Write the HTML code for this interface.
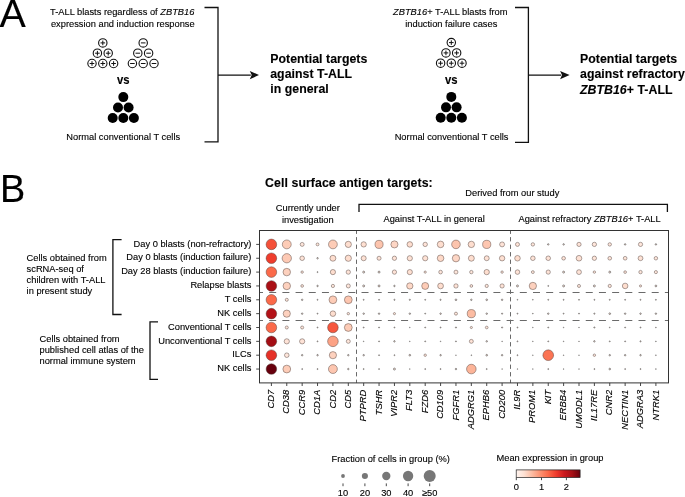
<!DOCTYPE html>
<html><head><meta charset="utf-8"><title>Figure</title>
<style>html,body{margin:0;padding:0;background:#fff;} svg{display:block;} text{fill:#000;stroke:#000;stroke-width:0.12px;}</style></head>
<body><svg width="685" height="497" viewBox="0 0 685 497" font-family="'Liberation Sans', Arial, sans-serif">
<rect width="685" height="497" fill="#fff"/>
<defs><linearGradient id="cb" x1="0" x2="1" y1="0" y2="0"><stop offset="0.000" stop-color="#fff5f0"/><stop offset="0.125" stop-color="#fee0d2"/><stop offset="0.250" stop-color="#fcbba1"/><stop offset="0.375" stop-color="#fc9272"/><stop offset="0.500" stop-color="#fb6a4a"/><stop offset="0.625" stop-color="#ef3b2c"/><stop offset="0.750" stop-color="#cb181d"/><stop offset="0.875" stop-color="#a50f15"/><stop offset="1.000" stop-color="#67000d"/></linearGradient></defs>
<text x="-0.40" y="26.80" font-size="39.4">A</text>
<text x="122.20" y="15.00" font-size="9.3" text-anchor="middle">T-ALL blasts regardless of <tspan font-style="italic">ZBTB16</tspan></text>
<text x="122.80" y="26.50" font-size="9.3" text-anchor="middle">expression and induction response</text>
<circle cx="102.80" cy="42.90" r="4.2" fill="#fff" stroke="#111" stroke-width="1.1"/>
<line x1="100.50" y1="42.90" x2="105.10" y2="42.90" stroke="#111" stroke-width="1.0"/>
<line x1="102.80" y1="40.60" x2="102.80" y2="45.20" stroke="#111" stroke-width="1.0"/>
<circle cx="97.40" cy="53.20" r="4.2" fill="#fff" stroke="#111" stroke-width="1.1"/>
<line x1="95.10" y1="53.20" x2="99.70" y2="53.20" stroke="#111" stroke-width="1.0"/>
<line x1="97.40" y1="50.90" x2="97.40" y2="55.50" stroke="#111" stroke-width="1.0"/>
<circle cx="108.20" cy="53.20" r="4.2" fill="#fff" stroke="#111" stroke-width="1.1"/>
<line x1="105.90" y1="53.20" x2="110.50" y2="53.20" stroke="#111" stroke-width="1.0"/>
<line x1="108.20" y1="50.90" x2="108.20" y2="55.50" stroke="#111" stroke-width="1.0"/>
<circle cx="92.00" cy="63.50" r="4.2" fill="#fff" stroke="#111" stroke-width="1.1"/>
<line x1="89.70" y1="63.50" x2="94.30" y2="63.50" stroke="#111" stroke-width="1.0"/>
<line x1="92.00" y1="61.20" x2="92.00" y2="65.80" stroke="#111" stroke-width="1.0"/>
<circle cx="102.80" cy="63.50" r="4.2" fill="#fff" stroke="#111" stroke-width="1.1"/>
<line x1="100.50" y1="63.50" x2="105.10" y2="63.50" stroke="#111" stroke-width="1.0"/>
<line x1="102.80" y1="61.20" x2="102.80" y2="65.80" stroke="#111" stroke-width="1.0"/>
<circle cx="113.60" cy="63.50" r="4.2" fill="#fff" stroke="#111" stroke-width="1.1"/>
<line x1="111.30" y1="63.50" x2="115.90" y2="63.50" stroke="#111" stroke-width="1.0"/>
<line x1="113.60" y1="61.20" x2="113.60" y2="65.80" stroke="#111" stroke-width="1.0"/>
<circle cx="143.20" cy="42.90" r="4.2" fill="#fff" stroke="#111" stroke-width="1.1"/>
<line x1="140.90" y1="42.90" x2="145.50" y2="42.90" stroke="#111" stroke-width="1.0"/>
<circle cx="137.80" cy="53.20" r="4.2" fill="#fff" stroke="#111" stroke-width="1.1"/>
<line x1="135.50" y1="53.20" x2="140.10" y2="53.20" stroke="#111" stroke-width="1.0"/>
<circle cx="148.60" cy="53.20" r="4.2" fill="#fff" stroke="#111" stroke-width="1.1"/>
<line x1="146.30" y1="53.20" x2="150.90" y2="53.20" stroke="#111" stroke-width="1.0"/>
<circle cx="132.40" cy="63.50" r="4.2" fill="#fff" stroke="#111" stroke-width="1.1"/>
<line x1="130.10" y1="63.50" x2="134.70" y2="63.50" stroke="#111" stroke-width="1.0"/>
<circle cx="143.20" cy="63.50" r="4.2" fill="#fff" stroke="#111" stroke-width="1.1"/>
<line x1="140.90" y1="63.50" x2="145.50" y2="63.50" stroke="#111" stroke-width="1.0"/>
<circle cx="154.00" cy="63.50" r="4.2" fill="#fff" stroke="#111" stroke-width="1.1"/>
<line x1="151.70" y1="63.50" x2="156.30" y2="63.50" stroke="#111" stroke-width="1.0"/>
<g transform="translate(123.3,83.9) scale(1,1.16)"><text x="0" y="0" font-size="11.3" font-weight="bold" text-anchor="middle">vs</text></g>
<circle cx="123.30" cy="97.10" r="5.0" fill="#000"/>
<circle cx="118.00" cy="107.55" r="5.0" fill="#000"/>
<circle cx="128.60" cy="107.55" r="5.0" fill="#000"/>
<circle cx="112.70" cy="118.00" r="5.0" fill="#000"/>
<circle cx="123.30" cy="118.00" r="5.0" fill="#000"/>
<circle cx="133.90" cy="118.00" r="5.0" fill="#000"/>
<text x="123.20" y="140.30" font-size="9.3" text-anchor="middle">Normal conventional T cells</text>
<path d="M204.5 7.5 H218.0 V141.8 H204.5" fill="none" stroke="#111" stroke-width="1.3"/>
<line x1="218.0" y1="75.1" x2="250.8" y2="75.1" stroke="#111" stroke-width="1.3"/>
<path d="M249.8 70.94999999999999 L259.0 75.1 L249.8 79.25 L251.70000000000002 75.1 Z" fill="#111"/>
<text x="270.20" y="63.20" font-size="12.3" font-weight="bold" letter-spacing="0.05">Potential targets</text>
<text x="270.20" y="78.30" font-size="12.3" font-weight="bold" letter-spacing="0.05">against T-ALL</text>
<text x="270.20" y="93.40" font-size="12.3" font-weight="bold" letter-spacing="0.05">in general</text>
<text x="450.30" y="15.10" font-size="9.3" text-anchor="middle"><tspan font-style="italic">ZBTB16</tspan>+ T-ALL blasts from</text>
<text x="451.30" y="26.60" font-size="9.3" text-anchor="middle">induction failure cases</text>
<circle cx="451.30" cy="42.60" r="4.2" fill="#fff" stroke="#111" stroke-width="1.1"/>
<line x1="449.00" y1="42.60" x2="453.60" y2="42.60" stroke="#111" stroke-width="1.0"/>
<line x1="451.30" y1="40.30" x2="451.30" y2="44.90" stroke="#111" stroke-width="1.0"/>
<circle cx="445.95" cy="52.90" r="4.2" fill="#fff" stroke="#111" stroke-width="1.1"/>
<line x1="443.65" y1="52.90" x2="448.25" y2="52.90" stroke="#111" stroke-width="1.0"/>
<line x1="445.95" y1="50.60" x2="445.95" y2="55.20" stroke="#111" stroke-width="1.0"/>
<circle cx="456.65" cy="52.90" r="4.2" fill="#fff" stroke="#111" stroke-width="1.1"/>
<line x1="454.35" y1="52.90" x2="458.95" y2="52.90" stroke="#111" stroke-width="1.0"/>
<line x1="456.65" y1="50.60" x2="456.65" y2="55.20" stroke="#111" stroke-width="1.0"/>
<circle cx="440.60" cy="63.20" r="4.2" fill="#fff" stroke="#111" stroke-width="1.1"/>
<line x1="438.30" y1="63.20" x2="442.90" y2="63.20" stroke="#111" stroke-width="1.0"/>
<line x1="440.60" y1="60.90" x2="440.60" y2="65.50" stroke="#111" stroke-width="1.0"/>
<circle cx="451.30" cy="63.20" r="4.2" fill="#fff" stroke="#111" stroke-width="1.1"/>
<line x1="449.00" y1="63.20" x2="453.60" y2="63.20" stroke="#111" stroke-width="1.0"/>
<line x1="451.30" y1="60.90" x2="451.30" y2="65.50" stroke="#111" stroke-width="1.0"/>
<circle cx="462.00" cy="63.20" r="4.2" fill="#fff" stroke="#111" stroke-width="1.1"/>
<line x1="459.70" y1="63.20" x2="464.30" y2="63.20" stroke="#111" stroke-width="1.0"/>
<line x1="462.00" y1="60.90" x2="462.00" y2="65.50" stroke="#111" stroke-width="1.0"/>
<g transform="translate(451.3,83.8) scale(1,1.16)"><text x="0" y="0" font-size="11.3" font-weight="bold" text-anchor="middle">vs</text></g>
<circle cx="451.30" cy="96.90" r="5.0" fill="#000"/>
<circle cx="446.00" cy="107.35" r="5.0" fill="#000"/>
<circle cx="456.60" cy="107.35" r="5.0" fill="#000"/>
<circle cx="440.70" cy="117.80" r="5.0" fill="#000"/>
<circle cx="451.30" cy="117.80" r="5.0" fill="#000"/>
<circle cx="461.90" cy="117.80" r="5.0" fill="#000"/>
<text x="451.60" y="140.30" font-size="9.3" text-anchor="middle">Normal conventional T cells</text>
<path d="M515 7.5 H528.4 V142.4 H515" fill="none" stroke="#111" stroke-width="1.3"/>
<line x1="528.4" y1="75.1" x2="561.1" y2="75.1" stroke="#111" stroke-width="1.3"/>
<path d="M560.1 70.94999999999999 L569.6 75.1 L560.1 79.25 L562.0 75.1 Z" fill="#111"/>
<text x="580.00" y="63.20" font-size="12.3" font-weight="bold" letter-spacing="0.05">Potential targets</text>
<text x="580.00" y="78.20" font-size="12.3" font-weight="bold" letter-spacing="0.05">against refractory</text>
<text x="580.00" y="93.50" font-size="12.3" font-weight="bold" letter-spacing="0.05"><tspan font-style="italic">ZBTB16</tspan>+ T-ALL</text>
<g transform="translate(-0.1,202.0) scale(0.96,1)"><text x="0" y="0" font-size="39.4">B</text></g>
<text x="265.10" y="186.80" font-size="12.3" font-weight="bold" letter-spacing="0.08">Cell surface antigen targets:</text>
<text x="465.30" y="196.00" font-size="9.3">Derived from our study</text>
<path d="M359.0 212.1 V204.4 H667.4 V212.1" fill="none" stroke="#111" stroke-width="1.3"/>
<text x="307.80" y="211.40" font-size="9.3" text-anchor="middle">Currently under</text>
<text x="307.80" y="222.70" font-size="9.3" text-anchor="middle">investigation</text>
<text x="434.10" y="222.30" font-size="9.3" text-anchor="middle">Against T-ALL in general</text>
<text x="589.60" y="222.20" font-size="9.3" text-anchor="middle">Against refractory <tspan font-style="italic">ZBTB16</tspan>+ T-ALL</text>
<clipPath id="ax"><rect x="259.5" y="230.4" width="409" height="152.5"/></clipPath>
<g clip-path="url(#ax)">
<line x1="256.0" y1="292.5" x2="668.5" y2="292.5" stroke="#6a6a6a" stroke-width="1.0" stroke-dasharray="7.0 6.19"/>
<line x1="256.0" y1="320.5" x2="668.5" y2="320.5" stroke="#6a6a6a" stroke-width="1.0" stroke-dasharray="7.0 6.19"/>
<line x1="356.5" y1="229.6" x2="356.5" y2="382.9" stroke="#6a6a6a" stroke-width="1.0" stroke-dasharray="4.3 3.2"/>
<line x1="510.5" y1="229.6" x2="510.5" y2="382.9" stroke="#6a6a6a" stroke-width="1.0" stroke-dasharray="4.3 3.2"/>
</g>
<circle cx="271.40" cy="244.40" r="5.30" fill="#f45039" stroke="#4a3a36" stroke-width="0.45"/>
<circle cx="286.78" cy="244.40" r="4.45" fill="#fdccb7" stroke="#4a3a36" stroke-width="0.45"/>
<circle cx="302.16" cy="244.40" r="1.98" fill="#fee6db" stroke="#4a3a36" stroke-width="0.45"/>
<circle cx="317.54" cy="244.40" r="1.44" fill="#fee6db" stroke="#4a3a36" stroke-width="0.45"/>
<circle cx="332.92" cy="244.40" r="4.40" fill="#fdccb7" stroke="#4a3a36" stroke-width="0.45"/>
<circle cx="348.30" cy="244.40" r="3.11" fill="#fedecf" stroke="#4a3a36" stroke-width="0.45"/>
<circle cx="363.68" cy="244.40" r="2.66" fill="#fee0d2" stroke="#4a3a36" stroke-width="0.45"/>
<circle cx="379.06" cy="244.40" r="4.05" fill="#fcc4ad" stroke="#4a3a36" stroke-width="0.45"/>
<circle cx="394.44" cy="244.40" r="3.55" fill="#fdd6c5" stroke="#4a3a36" stroke-width="0.45"/>
<circle cx="409.82" cy="244.40" r="2.79" fill="#fedecf" stroke="#4a3a36" stroke-width="0.45"/>
<circle cx="425.20" cy="244.40" r="2.21" fill="#fee3d7" stroke="#4a3a36" stroke-width="0.45"/>
<circle cx="440.58" cy="244.40" r="3.30" fill="#fedecf" stroke="#4a3a36" stroke-width="0.45"/>
<circle cx="455.96" cy="244.40" r="4.30" fill="#fcc4ad" stroke="#4a3a36" stroke-width="0.45"/>
<circle cx="471.34" cy="244.40" r="3.20" fill="#fedecf" stroke="#4a3a36" stroke-width="0.45"/>
<circle cx="486.72" cy="244.40" r="4.10" fill="#fdc6b0" stroke="#4a3a36" stroke-width="0.45"/>
<circle cx="502.10" cy="244.40" r="2.48" fill="#fee3d7" stroke="#4a3a36" stroke-width="0.45"/>
<circle cx="517.48" cy="244.40" r="2.02" fill="#fee3d7" stroke="#4a3a36" stroke-width="0.45"/>
<circle cx="532.86" cy="244.40" r="1.71" fill="#fee6db" stroke="#4a3a36" stroke-width="0.45"/>
<circle cx="548.24" cy="244.40" r="0.75" fill="#fee6db" stroke="#333" stroke-width="0.5"/>
<circle cx="563.62" cy="244.40" r="0.75" fill="#fee6db" stroke="#333" stroke-width="0.5"/>
<circle cx="579.00" cy="244.40" r="2.12" fill="#fee3d7" stroke="#4a3a36" stroke-width="0.45"/>
<circle cx="594.38" cy="244.40" r="2.16" fill="#fee6db" stroke="#4a3a36" stroke-width="0.45"/>
<circle cx="609.76" cy="244.40" r="1.71" fill="#fee6db" stroke="#4a3a36" stroke-width="0.45"/>
<circle cx="625.14" cy="244.40" r="0.75" fill="#fee6db" stroke="#333" stroke-width="0.5"/>
<circle cx="640.52" cy="244.40" r="2.12" fill="#fee6db" stroke="#4a3a36" stroke-width="0.45"/>
<circle cx="655.90" cy="244.40" r="0.75" fill="#fee6db" stroke="#333" stroke-width="0.5"/>
<circle cx="271.40" cy="258.25" r="5.30" fill="#ef3d2d" stroke="#4a3a36" stroke-width="0.45"/>
<circle cx="286.78" cy="258.25" r="4.65" fill="#fdc9b4" stroke="#4a3a36" stroke-width="0.45"/>
<circle cx="302.16" cy="258.25" r="2.29" fill="#fee3d7" stroke="#4a3a36" stroke-width="0.45"/>
<circle cx="317.54" cy="258.25" r="0.75" fill="#fee6db" stroke="#333" stroke-width="0.5"/>
<circle cx="332.92" cy="258.25" r="2.97" fill="#fedecf" stroke="#4a3a36" stroke-width="0.45"/>
<circle cx="348.30" cy="258.25" r="3.11" fill="#fedecf" stroke="#4a3a36" stroke-width="0.45"/>
<circle cx="363.68" cy="258.25" r="2.52" fill="#fee2d5" stroke="#4a3a36" stroke-width="0.45"/>
<circle cx="379.06" cy="258.25" r="2.02" fill="#fee3d7" stroke="#4a3a36" stroke-width="0.45"/>
<circle cx="394.44" cy="258.25" r="2.16" fill="#fee3d7" stroke="#4a3a36" stroke-width="0.45"/>
<circle cx="409.82" cy="258.25" r="2.61" fill="#fee2d5" stroke="#4a3a36" stroke-width="0.45"/>
<circle cx="425.20" cy="258.25" r="2.61" fill="#fee2d5" stroke="#4a3a36" stroke-width="0.45"/>
<circle cx="440.58" cy="258.25" r="3.30" fill="#fed9c8" stroke="#4a3a36" stroke-width="0.45"/>
<circle cx="455.96" cy="258.25" r="3.65" fill="#fdd6c5" stroke="#4a3a36" stroke-width="0.45"/>
<circle cx="471.34" cy="258.25" r="2.97" fill="#fedecf" stroke="#4a3a36" stroke-width="0.45"/>
<circle cx="486.72" cy="258.25" r="2.48" fill="#fee2d5" stroke="#4a3a36" stroke-width="0.45"/>
<circle cx="502.10" cy="258.25" r="2.70" fill="#fee0d2" stroke="#4a3a36" stroke-width="0.45"/>
<circle cx="517.48" cy="258.25" r="2.79" fill="#fedecf" stroke="#4a3a36" stroke-width="0.45"/>
<circle cx="532.86" cy="258.25" r="2.29" fill="#fee3d7" stroke="#4a3a36" stroke-width="0.45"/>
<circle cx="548.24" cy="258.25" r="2.29" fill="#fee3d7" stroke="#4a3a36" stroke-width="0.45"/>
<circle cx="563.62" cy="258.25" r="1.84" fill="#fee3d7" stroke="#4a3a36" stroke-width="0.45"/>
<circle cx="579.00" cy="258.25" r="2.83" fill="#fee2d5" stroke="#4a3a36" stroke-width="0.45"/>
<circle cx="594.38" cy="258.25" r="2.16" fill="#fee5d9" stroke="#4a3a36" stroke-width="0.45"/>
<circle cx="609.76" cy="258.25" r="1.84" fill="#fee5d9" stroke="#4a3a36" stroke-width="0.45"/>
<circle cx="625.14" cy="258.25" r="1.84" fill="#fee5d9" stroke="#4a3a36" stroke-width="0.45"/>
<circle cx="640.52" cy="258.25" r="2.43" fill="#fee2d5" stroke="#4a3a36" stroke-width="0.45"/>
<circle cx="655.90" cy="258.25" r="1.75" fill="#fee6db" stroke="#4a3a36" stroke-width="0.45"/>
<circle cx="271.40" cy="272.10" r="5.30" fill="#fb6a4a" stroke="#4a3a36" stroke-width="0.45"/>
<circle cx="286.78" cy="272.10" r="3.75" fill="#fdd1be" stroke="#4a3a36" stroke-width="0.45"/>
<circle cx="302.16" cy="272.10" r="1.22" fill="#fee6db" stroke="#4a3a36" stroke-width="0.45"/>
<circle cx="317.54" cy="272.10" r="0.50" fill="#fee6db" stroke="#333" stroke-width="0.5"/>
<circle cx="332.92" cy="272.10" r="2.61" fill="#fedecf" stroke="#4a3a36" stroke-width="0.45"/>
<circle cx="348.30" cy="272.10" r="2.16" fill="#fee3d7" stroke="#4a3a36" stroke-width="0.45"/>
<circle cx="363.68" cy="272.10" r="1.00" fill="#fee6db" stroke="#333" stroke-width="0.5"/>
<circle cx="379.06" cy="272.10" r="1.00" fill="#fee6db" stroke="#333" stroke-width="0.5"/>
<circle cx="394.44" cy="272.10" r="2.16" fill="#fee3d7" stroke="#4a3a36" stroke-width="0.45"/>
<circle cx="409.82" cy="272.10" r="2.61" fill="#fee0d2" stroke="#4a3a36" stroke-width="0.45"/>
<circle cx="425.20" cy="272.10" r="1.12" fill="#fee6db" stroke="#4a3a36" stroke-width="0.45"/>
<circle cx="440.58" cy="272.10" r="1.84" fill="#fee6db" stroke="#4a3a36" stroke-width="0.45"/>
<circle cx="455.96" cy="272.10" r="1.98" fill="#fee6db" stroke="#4a3a36" stroke-width="0.45"/>
<circle cx="471.34" cy="272.10" r="1.71" fill="#fee6db" stroke="#4a3a36" stroke-width="0.45"/>
<circle cx="486.72" cy="272.10" r="2.66" fill="#fedecf" stroke="#4a3a36" stroke-width="0.45"/>
<circle cx="502.10" cy="272.10" r="1.22" fill="#fee6db" stroke="#4a3a36" stroke-width="0.45"/>
<circle cx="517.48" cy="272.10" r="2.29" fill="#fee3d7" stroke="#4a3a36" stroke-width="0.45"/>
<circle cx="532.86" cy="272.10" r="1.44" fill="#fee6db" stroke="#4a3a36" stroke-width="0.45"/>
<circle cx="548.24" cy="272.10" r="2.12" fill="#fee3d7" stroke="#4a3a36" stroke-width="0.45"/>
<circle cx="563.62" cy="272.10" r="1.00" fill="#fee6db" stroke="#333" stroke-width="0.5"/>
<circle cx="579.00" cy="272.10" r="2.43" fill="#fee3d7" stroke="#4a3a36" stroke-width="0.45"/>
<circle cx="594.38" cy="272.10" r="1.22" fill="#fee6db" stroke="#4a3a36" stroke-width="0.45"/>
<circle cx="609.76" cy="272.10" r="1.00" fill="#fee6db" stroke="#333" stroke-width="0.5"/>
<circle cx="625.14" cy="272.10" r="1.35" fill="#fee6db" stroke="#4a3a36" stroke-width="0.45"/>
<circle cx="640.52" cy="272.10" r="1.71" fill="#fee6db" stroke="#4a3a36" stroke-width="0.45"/>
<circle cx="655.90" cy="272.10" r="1.57" fill="#fee6db" stroke="#4a3a36" stroke-width="0.45"/>
<circle cx="271.40" cy="285.95" r="5.30" fill="#aa1016" stroke="#4a3a36" stroke-width="0.45"/>
<circle cx="286.78" cy="285.95" r="3.75" fill="#fdd1be" stroke="#4a3a36" stroke-width="0.45"/>
<circle cx="302.16" cy="285.95" r="1.35" fill="#fee6db" stroke="#4a3a36" stroke-width="0.45"/>
<circle cx="317.54" cy="285.95" r="0.75" fill="#fee6db" stroke="#333" stroke-width="0.5"/>
<circle cx="332.92" cy="285.95" r="1.62" fill="#fee6db" stroke="#4a3a36" stroke-width="0.45"/>
<circle cx="348.30" cy="285.95" r="2.02" fill="#fee6db" stroke="#4a3a36" stroke-width="0.45"/>
<circle cx="363.68" cy="285.95" r="1.00" fill="#fee6db" stroke="#333" stroke-width="0.5"/>
<circle cx="379.06" cy="285.95" r="1.00" fill="#fee6db" stroke="#333" stroke-width="0.5"/>
<circle cx="394.44" cy="285.95" r="0.75" fill="#fee6db" stroke="#333" stroke-width="0.5"/>
<circle cx="409.82" cy="285.95" r="3.15" fill="#fed9c8" stroke="#4a3a36" stroke-width="0.45"/>
<circle cx="425.20" cy="285.95" r="3.50" fill="#fdccb7" stroke="#4a3a36" stroke-width="0.45"/>
<circle cx="440.58" cy="285.95" r="2.88" fill="#fedecf" stroke="#4a3a36" stroke-width="0.45"/>
<circle cx="455.96" cy="285.95" r="2.16" fill="#fee3d7" stroke="#4a3a36" stroke-width="0.45"/>
<circle cx="471.34" cy="285.95" r="1.35" fill="#fee6db" stroke="#4a3a36" stroke-width="0.45"/>
<circle cx="486.72" cy="285.95" r="1.62" fill="#fee6db" stroke="#4a3a36" stroke-width="0.45"/>
<circle cx="502.10" cy="285.95" r="2.12" fill="#fee3d7" stroke="#4a3a36" stroke-width="0.45"/>
<circle cx="517.48" cy="285.95" r="1.00" fill="#fee6db" stroke="#333" stroke-width="0.5"/>
<circle cx="532.86" cy="285.95" r="3.65" fill="#fdd1be" stroke="#4a3a36" stroke-width="0.45"/>
<circle cx="548.24" cy="285.95" r="0.50" fill="#fee6db" stroke="#333" stroke-width="0.5"/>
<circle cx="563.62" cy="285.95" r="1.00" fill="#fee6db" stroke="#333" stroke-width="0.5"/>
<circle cx="579.00" cy="285.95" r="1.53" fill="#fee6db" stroke="#4a3a36" stroke-width="0.45"/>
<circle cx="594.38" cy="285.95" r="1.00" fill="#fee6db" stroke="#333" stroke-width="0.5"/>
<circle cx="609.76" cy="285.95" r="1.62" fill="#fee6db" stroke="#4a3a36" stroke-width="0.45"/>
<circle cx="625.14" cy="285.95" r="2.79" fill="#fedecf" stroke="#4a3a36" stroke-width="0.45"/>
<circle cx="640.52" cy="285.95" r="1.08" fill="#fee6db" stroke="#4a3a36" stroke-width="0.45"/>
<circle cx="655.90" cy="285.95" r="0.90" fill="#fee6db" stroke="#333" stroke-width="0.5"/>
<circle cx="271.40" cy="299.80" r="5.30" fill="#fb6a4a" stroke="#4a3a36" stroke-width="0.45"/>
<circle cx="286.78" cy="299.80" r="1.53" fill="#fee6db" stroke="#4a3a36" stroke-width="0.45"/>
<circle cx="302.16" cy="299.80" r="0.75" fill="#fee6db" stroke="#333" stroke-width="0.5"/>
<circle cx="317.54" cy="299.80" r="0.50" fill="#fee6db" stroke="#333" stroke-width="0.5"/>
<circle cx="332.92" cy="299.80" r="3.90" fill="#fdccb7" stroke="#4a3a36" stroke-width="0.45"/>
<circle cx="348.30" cy="299.80" r="3.90" fill="#fdc6b0" stroke="#4a3a36" stroke-width="0.45"/>
<circle cx="363.68" cy="299.80" r="0.50" fill="#fee6db" stroke="#333" stroke-width="0.5"/>
<circle cx="379.06" cy="299.80" r="0.50" fill="#fee6db" stroke="#333" stroke-width="0.5"/>
<circle cx="394.44" cy="299.80" r="0.60" fill="#fee6db" stroke="#333" stroke-width="0.5"/>
<circle cx="409.82" cy="299.80" r="0.60" fill="#fee6db" stroke="#333" stroke-width="0.5"/>
<circle cx="425.20" cy="299.80" r="0.50" fill="#fee6db" stroke="#333" stroke-width="0.5"/>
<circle cx="440.58" cy="299.80" r="0.60" fill="#fee6db" stroke="#333" stroke-width="0.5"/>
<circle cx="455.96" cy="299.80" r="0.85" fill="#fee6db" stroke="#333" stroke-width="0.5"/>
<circle cx="471.34" cy="299.80" r="0.75" fill="#fee6db" stroke="#333" stroke-width="0.5"/>
<circle cx="486.72" cy="299.80" r="0.85" fill="#fee6db" stroke="#333" stroke-width="0.5"/>
<circle cx="502.10" cy="299.80" r="0.75" fill="#fee6db" stroke="#333" stroke-width="0.5"/>
<circle cx="517.48" cy="299.80" r="0.40" fill="#fee6db" stroke="#333" stroke-width="0.5"/>
<circle cx="532.86" cy="299.80" r="0.40" fill="#fee6db" stroke="#333" stroke-width="0.5"/>
<circle cx="548.24" cy="299.80" r="0.50" fill="#fee6db" stroke="#333" stroke-width="0.5"/>
<circle cx="563.62" cy="299.80" r="0.50" fill="#fee6db" stroke="#333" stroke-width="0.5"/>
<circle cx="579.00" cy="299.80" r="0.50" fill="#fee6db" stroke="#333" stroke-width="0.5"/>
<circle cx="594.38" cy="299.80" r="0.50" fill="#fee6db" stroke="#333" stroke-width="0.5"/>
<circle cx="609.76" cy="299.80" r="0.50" fill="#fee6db" stroke="#333" stroke-width="0.5"/>
<circle cx="625.14" cy="299.80" r="0.50" fill="#fee6db" stroke="#333" stroke-width="0.5"/>
<circle cx="640.52" cy="299.80" r="0.50" fill="#fee6db" stroke="#333" stroke-width="0.5"/>
<circle cx="655.90" cy="299.80" r="0.50" fill="#fee6db" stroke="#333" stroke-width="0.5"/>
<circle cx="271.40" cy="313.65" r="5.30" fill="#b31218" stroke="#4a3a36" stroke-width="0.45"/>
<circle cx="286.78" cy="313.65" r="3.60" fill="#fdd1be" stroke="#4a3a36" stroke-width="0.45"/>
<circle cx="302.16" cy="313.65" r="0.75" fill="#fee6db" stroke="#333" stroke-width="0.5"/>
<circle cx="317.54" cy="313.65" r="0.50" fill="#fee6db" stroke="#333" stroke-width="0.5"/>
<circle cx="332.92" cy="313.65" r="2.79" fill="#fedecf" stroke="#4a3a36" stroke-width="0.45"/>
<circle cx="348.30" cy="313.65" r="1.22" fill="#fee6db" stroke="#4a3a36" stroke-width="0.45"/>
<circle cx="363.68" cy="313.65" r="0.75" fill="#fee6db" stroke="#333" stroke-width="0.5"/>
<circle cx="379.06" cy="313.65" r="0.75" fill="#fee6db" stroke="#333" stroke-width="0.5"/>
<circle cx="394.44" cy="313.65" r="1.08" fill="#fee6db" stroke="#4a3a36" stroke-width="0.45"/>
<circle cx="409.82" cy="313.65" r="0.75" fill="#fee6db" stroke="#333" stroke-width="0.5"/>
<circle cx="425.20" cy="313.65" r="0.50" fill="#fee6db" stroke="#333" stroke-width="0.5"/>
<circle cx="440.58" cy="313.65" r="0.75" fill="#fee6db" stroke="#333" stroke-width="0.5"/>
<circle cx="455.96" cy="313.65" r="1.53" fill="#fee6db" stroke="#4a3a36" stroke-width="0.45"/>
<circle cx="471.34" cy="313.65" r="4.10" fill="#fcbca2" stroke="#4a3a36" stroke-width="0.45"/>
<circle cx="486.72" cy="313.65" r="0.75" fill="#fee6db" stroke="#333" stroke-width="0.5"/>
<circle cx="502.10" cy="313.65" r="0.60" fill="#fee6db" stroke="#333" stroke-width="0.5"/>
<circle cx="517.48" cy="313.65" r="0.50" fill="#fee6db" stroke="#333" stroke-width="0.5"/>
<circle cx="532.86" cy="313.65" r="0.40" fill="#fee6db" stroke="#333" stroke-width="0.5"/>
<circle cx="548.24" cy="313.65" r="0.75" fill="#fee6db" stroke="#333" stroke-width="0.5"/>
<circle cx="563.62" cy="313.65" r="0.50" fill="#fee6db" stroke="#333" stroke-width="0.5"/>
<circle cx="579.00" cy="313.65" r="0.50" fill="#fee6db" stroke="#333" stroke-width="0.5"/>
<circle cx="594.38" cy="313.65" r="0.60" fill="#fee6db" stroke="#333" stroke-width="0.5"/>
<circle cx="609.76" cy="313.65" r="0.85" fill="#fee6db" stroke="#333" stroke-width="0.5"/>
<circle cx="625.14" cy="313.65" r="0.75" fill="#fee6db" stroke="#333" stroke-width="0.5"/>
<circle cx="640.52" cy="313.65" r="0.75" fill="#fee6db" stroke="#333" stroke-width="0.5"/>
<circle cx="655.90" cy="313.65" r="0.75" fill="#fee6db" stroke="#333" stroke-width="0.5"/>
<circle cx="271.40" cy="327.50" r="5.30" fill="#fb6a4a" stroke="#4a3a36" stroke-width="0.45"/>
<circle cx="286.78" cy="327.50" r="1.53" fill="#fee6db" stroke="#4a3a36" stroke-width="0.45"/>
<circle cx="302.16" cy="327.50" r="1.53" fill="#fee6db" stroke="#4a3a36" stroke-width="0.45"/>
<circle cx="317.54" cy="327.50" r="0.50" fill="#fee6db" stroke="#333" stroke-width="0.5"/>
<circle cx="332.92" cy="327.50" r="5.30" fill="#f6573e" stroke="#4a3a36" stroke-width="0.45"/>
<circle cx="348.30" cy="327.50" r="3.90" fill="#fdccb7" stroke="#4a3a36" stroke-width="0.45"/>
<circle cx="363.68" cy="327.50" r="0.50" fill="#fee6db" stroke="#333" stroke-width="0.5"/>
<circle cx="379.06" cy="327.50" r="0.50" fill="#fee6db" stroke="#333" stroke-width="0.5"/>
<circle cx="394.44" cy="327.50" r="0.50" fill="#fee6db" stroke="#333" stroke-width="0.5"/>
<circle cx="409.82" cy="327.50" r="0.35" fill="#fee6db" stroke="#333" stroke-width="0.5"/>
<circle cx="425.20" cy="327.50" r="0.50" fill="#fee6db" stroke="#333" stroke-width="0.5"/>
<circle cx="440.58" cy="327.50" r="0.50" fill="#fee6db" stroke="#333" stroke-width="0.5"/>
<circle cx="455.96" cy="327.50" r="0.60" fill="#fee6db" stroke="#333" stroke-width="0.5"/>
<circle cx="471.34" cy="327.50" r="1.08" fill="#fee6db" stroke="#4a3a36" stroke-width="0.45"/>
<circle cx="486.72" cy="327.50" r="1.35" fill="#fee6db" stroke="#4a3a36" stroke-width="0.45"/>
<circle cx="502.10" cy="327.50" r="0.60" fill="#fee6db" stroke="#333" stroke-width="0.5"/>
<circle cx="517.48" cy="327.50" r="0.50" fill="#fee6db" stroke="#333" stroke-width="0.5"/>
<circle cx="532.86" cy="327.50" r="0.35" fill="#fee6db" stroke="#333" stroke-width="0.5"/>
<circle cx="548.24" cy="327.50" r="0.50" fill="#fee6db" stroke="#333" stroke-width="0.5"/>
<circle cx="563.62" cy="327.50" r="0.35" fill="#fee6db" stroke="#333" stroke-width="0.5"/>
<circle cx="579.00" cy="327.50" r="0.35" fill="#fee6db" stroke="#333" stroke-width="0.5"/>
<circle cx="594.38" cy="327.50" r="0.60" fill="#fee6db" stroke="#333" stroke-width="0.5"/>
<circle cx="609.76" cy="327.50" r="0.40" fill="#fee6db" stroke="#333" stroke-width="0.5"/>
<circle cx="625.14" cy="327.50" r="0.50" fill="#fee6db" stroke="#333" stroke-width="0.5"/>
<circle cx="640.52" cy="327.50" r="0.50" fill="#fee6db" stroke="#333" stroke-width="0.5"/>
<circle cx="655.90" cy="327.50" r="0.40" fill="#fee6db" stroke="#333" stroke-width="0.5"/>
<circle cx="271.40" cy="341.35" r="5.30" fill="#a30e15" stroke="#4a3a36" stroke-width="0.45"/>
<circle cx="286.78" cy="341.35" r="2.61" fill="#fee3d7" stroke="#4a3a36" stroke-width="0.45"/>
<circle cx="302.16" cy="341.35" r="2.61" fill="#fee3d7" stroke="#4a3a36" stroke-width="0.45"/>
<circle cx="317.54" cy="341.35" r="0.50" fill="#fee6db" stroke="#333" stroke-width="0.5"/>
<circle cx="332.92" cy="341.35" r="5.30" fill="#fca285" stroke="#4a3a36" stroke-width="0.45"/>
<circle cx="348.30" cy="341.35" r="1.98" fill="#fee6db" stroke="#4a3a36" stroke-width="0.45"/>
<circle cx="363.68" cy="341.35" r="0.35" fill="#fee6db" stroke="#333" stroke-width="0.5"/>
<circle cx="379.06" cy="341.35" r="0.50" fill="#fee6db" stroke="#333" stroke-width="0.5"/>
<circle cx="394.44" cy="341.35" r="0.75" fill="#fee6db" stroke="#333" stroke-width="0.5"/>
<circle cx="409.82" cy="341.35" r="0.35" fill="#fee6db" stroke="#333" stroke-width="0.5"/>
<circle cx="425.20" cy="341.35" r="0.50" fill="#fee6db" stroke="#333" stroke-width="0.5"/>
<circle cx="440.58" cy="341.35" r="0.35" fill="#fee6db" stroke="#333" stroke-width="0.5"/>
<circle cx="455.96" cy="341.35" r="0.50" fill="#fee6db" stroke="#333" stroke-width="0.5"/>
<circle cx="471.34" cy="341.35" r="1.98" fill="#fee3d7" stroke="#4a3a36" stroke-width="0.45"/>
<circle cx="486.72" cy="341.35" r="0.75" fill="#fee6db" stroke="#333" stroke-width="0.5"/>
<circle cx="502.10" cy="341.35" r="0.35" fill="#fee6db" stroke="#333" stroke-width="0.5"/>
<circle cx="517.48" cy="341.35" r="0.50" fill="#fee6db" stroke="#333" stroke-width="0.5"/>
<circle cx="532.86" cy="341.35" r="0.35" fill="#fee6db" stroke="#333" stroke-width="0.5"/>
<circle cx="548.24" cy="341.35" r="0.50" fill="#fee6db" stroke="#333" stroke-width="0.5"/>
<circle cx="563.62" cy="341.35" r="0.35" fill="#fee6db" stroke="#333" stroke-width="0.5"/>
<circle cx="579.00" cy="341.35" r="0.35" fill="#fee6db" stroke="#333" stroke-width="0.5"/>
<circle cx="594.38" cy="341.35" r="0.75" fill="#fee6db" stroke="#333" stroke-width="0.5"/>
<circle cx="609.76" cy="341.35" r="0.50" fill="#fee6db" stroke="#333" stroke-width="0.5"/>
<circle cx="625.14" cy="341.35" r="0.50" fill="#fee6db" stroke="#333" stroke-width="0.5"/>
<circle cx="640.52" cy="341.35" r="0.60" fill="#fee6db" stroke="#333" stroke-width="0.5"/>
<circle cx="655.90" cy="341.35" r="0.40" fill="#fee6db" stroke="#333" stroke-width="0.5"/>
<circle cx="271.40" cy="355.20" r="5.30" fill="#e53128" stroke="#4a3a36" stroke-width="0.45"/>
<circle cx="286.78" cy="355.20" r="2.29" fill="#fee6db" stroke="#4a3a36" stroke-width="0.45"/>
<circle cx="302.16" cy="355.20" r="0.75" fill="#fee6db" stroke="#333" stroke-width="0.5"/>
<circle cx="317.54" cy="355.20" r="0.75" fill="#fee6db" stroke="#333" stroke-width="0.5"/>
<circle cx="332.92" cy="355.20" r="3.60" fill="#fdd1be" stroke="#4a3a36" stroke-width="0.45"/>
<circle cx="348.30" cy="355.20" r="0.75" fill="#fee6db" stroke="#333" stroke-width="0.5"/>
<circle cx="363.68" cy="355.20" r="0.75" fill="#fee6db" stroke="#333" stroke-width="0.5"/>
<circle cx="379.06" cy="355.20" r="0.50" fill="#fee6db" stroke="#333" stroke-width="0.5"/>
<circle cx="394.44" cy="355.20" r="0.50" fill="#fee6db" stroke="#333" stroke-width="0.5"/>
<circle cx="409.82" cy="355.20" r="0.85" fill="#fee6db" stroke="#333" stroke-width="0.5"/>
<circle cx="425.20" cy="355.20" r="1.22" fill="#fee6db" stroke="#4a3a36" stroke-width="0.45"/>
<circle cx="440.58" cy="355.20" r="0.75" fill="#fee6db" stroke="#333" stroke-width="0.5"/>
<circle cx="455.96" cy="355.20" r="0.35" fill="#fee6db" stroke="#333" stroke-width="0.5"/>
<circle cx="471.34" cy="355.20" r="0.40" fill="#fee6db" stroke="#333" stroke-width="0.5"/>
<circle cx="486.72" cy="355.20" r="0.85" fill="#fee6db" stroke="#333" stroke-width="0.5"/>
<circle cx="502.10" cy="355.20" r="0.75" fill="#fee6db" stroke="#333" stroke-width="0.5"/>
<circle cx="517.48" cy="355.20" r="0.50" fill="#fee6db" stroke="#333" stroke-width="0.5"/>
<circle cx="532.86" cy="355.20" r="0.35" fill="#fee6db" stroke="#333" stroke-width="0.5"/>
<circle cx="548.24" cy="355.20" r="5.35" fill="#fb7454" stroke="#4a3a36" stroke-width="0.45"/>
<circle cx="563.62" cy="355.20" r="0.35" fill="#fee6db" stroke="#333" stroke-width="0.5"/>
<circle cx="579.00" cy="355.20" r="0.35" fill="#fee6db" stroke="#333" stroke-width="0.5"/>
<circle cx="594.38" cy="355.20" r="1.22" fill="#fee6db" stroke="#4a3a36" stroke-width="0.45"/>
<circle cx="609.76" cy="355.20" r="0.75" fill="#fee6db" stroke="#333" stroke-width="0.5"/>
<circle cx="625.14" cy="355.20" r="0.75" fill="#fee6db" stroke="#333" stroke-width="0.5"/>
<circle cx="640.52" cy="355.20" r="0.75" fill="#fee6db" stroke="#333" stroke-width="0.5"/>
<circle cx="655.90" cy="355.20" r="0.40" fill="#fee6db" stroke="#333" stroke-width="0.5"/>
<circle cx="271.40" cy="369.05" r="5.30" fill="#67000d" stroke="#4a3a36" stroke-width="0.45"/>
<circle cx="286.78" cy="369.05" r="3.90" fill="#fdccb7" stroke="#4a3a36" stroke-width="0.45"/>
<circle cx="302.16" cy="369.05" r="0.50" fill="#fee6db" stroke="#333" stroke-width="0.5"/>
<circle cx="317.54" cy="369.05" r="0.50" fill="#fee6db" stroke="#333" stroke-width="0.5"/>
<circle cx="332.92" cy="369.05" r="4.45" fill="#fdc6b0" stroke="#4a3a36" stroke-width="0.45"/>
<circle cx="348.30" cy="369.05" r="0.75" fill="#fee6db" stroke="#333" stroke-width="0.5"/>
<circle cx="363.68" cy="369.05" r="0.50" fill="#fee6db" stroke="#333" stroke-width="0.5"/>
<circle cx="379.06" cy="369.05" r="0.50" fill="#fee6db" stroke="#333" stroke-width="0.5"/>
<circle cx="394.44" cy="369.05" r="1.00" fill="#fee6db" stroke="#333" stroke-width="0.5"/>
<circle cx="409.82" cy="369.05" r="0.35" fill="#fee6db" stroke="#333" stroke-width="0.5"/>
<circle cx="425.20" cy="369.05" r="0.50" fill="#fee6db" stroke="#333" stroke-width="0.5"/>
<circle cx="440.58" cy="369.05" r="0.50" fill="#fee6db" stroke="#333" stroke-width="0.5"/>
<circle cx="455.96" cy="369.05" r="0.75" fill="#fee6db" stroke="#333" stroke-width="0.5"/>
<circle cx="471.34" cy="369.05" r="4.80" fill="#fcb498" stroke="#4a3a36" stroke-width="0.45"/>
<circle cx="486.72" cy="369.05" r="0.50" fill="#fee6db" stroke="#333" stroke-width="0.5"/>
<circle cx="502.10" cy="369.05" r="0.35" fill="#fee6db" stroke="#333" stroke-width="0.5"/>
<circle cx="517.48" cy="369.05" r="0.35" fill="#fee6db" stroke="#333" stroke-width="0.5"/>
<circle cx="532.86" cy="369.05" r="0.35" fill="#fee6db" stroke="#333" stroke-width="0.5"/>
<circle cx="548.24" cy="369.05" r="0.50" fill="#fee6db" stroke="#333" stroke-width="0.5"/>
<circle cx="563.62" cy="369.05" r="0.35" fill="#fee6db" stroke="#333" stroke-width="0.5"/>
<circle cx="579.00" cy="369.05" r="0.35" fill="#fee6db" stroke="#333" stroke-width="0.5"/>
<circle cx="594.38" cy="369.05" r="0.50" fill="#fee6db" stroke="#333" stroke-width="0.5"/>
<circle cx="609.76" cy="369.05" r="0.85" fill="#fee6db" stroke="#333" stroke-width="0.5"/>
<circle cx="625.14" cy="369.05" r="0.50" fill="#fee6db" stroke="#333" stroke-width="0.5"/>
<circle cx="640.52" cy="369.05" r="0.50" fill="#fee6db" stroke="#333" stroke-width="0.5"/>
<circle cx="655.90" cy="369.05" r="0.40" fill="#fee6db" stroke="#333" stroke-width="0.5"/>
<rect x="259.5" y="230.5" width="409.0" height="152.39999999999998" fill="none" stroke="#333" stroke-width="1"/>
<line x1="256.2" y1="244.40" x2="259.5" y2="244.40" stroke="#333" stroke-width="0.9"/>
<text x="251.40" y="246.60" font-size="9.3" text-anchor="end">Day 0 blasts (non-refractory)</text>
<line x1="256.2" y1="258.25" x2="259.5" y2="258.25" stroke="#333" stroke-width="0.9"/>
<text x="251.40" y="260.45" font-size="9.3" text-anchor="end">Day 0 blasts (induction failure)</text>
<line x1="256.2" y1="272.10" x2="259.5" y2="272.10" stroke="#333" stroke-width="0.9"/>
<text x="251.40" y="274.30" font-size="9.3" text-anchor="end">Day 28 blasts (induction failure)</text>
<line x1="256.2" y1="285.95" x2="259.5" y2="285.95" stroke="#333" stroke-width="0.9"/>
<text x="251.40" y="288.15" font-size="9.3" text-anchor="end">Relapse blasts</text>
<line x1="256.2" y1="299.80" x2="259.5" y2="299.80" stroke="#333" stroke-width="0.9"/>
<text x="251.40" y="302.00" font-size="9.3" text-anchor="end">T cells</text>
<line x1="256.2" y1="313.65" x2="259.5" y2="313.65" stroke="#333" stroke-width="0.9"/>
<text x="251.40" y="315.85" font-size="9.3" text-anchor="end">NK cells</text>
<line x1="256.2" y1="327.50" x2="259.5" y2="327.50" stroke="#333" stroke-width="0.9"/>
<text x="251.40" y="329.70" font-size="9.3" text-anchor="end">Conventional T cells</text>
<line x1="256.2" y1="341.35" x2="259.5" y2="341.35" stroke="#333" stroke-width="0.9"/>
<text x="251.40" y="343.55" font-size="9.3" text-anchor="end">Unconventional T cells</text>
<line x1="256.2" y1="355.20" x2="259.5" y2="355.20" stroke="#333" stroke-width="0.9"/>
<text x="251.40" y="357.40" font-size="9.3" text-anchor="end">ILCs</text>
<line x1="256.2" y1="369.05" x2="259.5" y2="369.05" stroke="#333" stroke-width="0.9"/>
<text x="251.40" y="371.25" font-size="9.3" text-anchor="end">NK cells</text>
<line x1="271.40" y1="382.9" x2="271.40" y2="386" stroke="#333" stroke-width="0.9"/>
<text x="0" y="0" font-size="9.3" font-style="italic" text-anchor="end" transform="translate(274.00,389.9) rotate(-90)">CD7</text>
<line x1="286.78" y1="382.9" x2="286.78" y2="386" stroke="#333" stroke-width="0.9"/>
<text x="0" y="0" font-size="9.3" font-style="italic" text-anchor="end" transform="translate(289.38,389.9) rotate(-90)">CD38</text>
<line x1="302.16" y1="382.9" x2="302.16" y2="386" stroke="#333" stroke-width="0.9"/>
<text x="0" y="0" font-size="9.3" font-style="italic" text-anchor="end" transform="translate(304.76,389.9) rotate(-90)">CCR9</text>
<line x1="317.54" y1="382.9" x2="317.54" y2="386" stroke="#333" stroke-width="0.9"/>
<text x="0" y="0" font-size="9.3" font-style="italic" text-anchor="end" transform="translate(320.14,389.9) rotate(-90)">CD1A</text>
<line x1="332.92" y1="382.9" x2="332.92" y2="386" stroke="#333" stroke-width="0.9"/>
<text x="0" y="0" font-size="9.3" font-style="italic" text-anchor="end" transform="translate(335.52,389.9) rotate(-90)">CD2</text>
<line x1="348.30" y1="382.9" x2="348.30" y2="386" stroke="#333" stroke-width="0.9"/>
<text x="0" y="0" font-size="9.3" font-style="italic" text-anchor="end" transform="translate(350.90,389.9) rotate(-90)">CD5</text>
<line x1="363.68" y1="382.9" x2="363.68" y2="386" stroke="#333" stroke-width="0.9"/>
<text x="0" y="0" font-size="9.3" font-style="italic" text-anchor="end" transform="translate(366.28,389.9) rotate(-90)">PTPRD</text>
<line x1="379.06" y1="382.9" x2="379.06" y2="386" stroke="#333" stroke-width="0.9"/>
<text x="0" y="0" font-size="9.3" font-style="italic" text-anchor="end" transform="translate(381.66,389.9) rotate(-90)">TSHR</text>
<line x1="394.44" y1="382.9" x2="394.44" y2="386" stroke="#333" stroke-width="0.9"/>
<text x="0" y="0" font-size="9.3" font-style="italic" text-anchor="end" transform="translate(397.04,389.9) rotate(-90)">VIPR2</text>
<line x1="409.82" y1="382.9" x2="409.82" y2="386" stroke="#333" stroke-width="0.9"/>
<text x="0" y="0" font-size="9.3" font-style="italic" text-anchor="end" transform="translate(412.42,389.9) rotate(-90)">FLT3</text>
<line x1="425.20" y1="382.9" x2="425.20" y2="386" stroke="#333" stroke-width="0.9"/>
<text x="0" y="0" font-size="9.3" font-style="italic" text-anchor="end" transform="translate(427.80,389.9) rotate(-90)">FZD6</text>
<line x1="440.58" y1="382.9" x2="440.58" y2="386" stroke="#333" stroke-width="0.9"/>
<text x="0" y="0" font-size="9.3" font-style="italic" text-anchor="end" transform="translate(443.18,389.9) rotate(-90)">CD109</text>
<line x1="455.96" y1="382.9" x2="455.96" y2="386" stroke="#333" stroke-width="0.9"/>
<text x="0" y="0" font-size="9.3" font-style="italic" text-anchor="end" transform="translate(458.56,389.9) rotate(-90)">FGFR1</text>
<line x1="471.34" y1="382.9" x2="471.34" y2="386" stroke="#333" stroke-width="0.9"/>
<text x="0" y="0" font-size="9.3" font-style="italic" text-anchor="end" transform="translate(473.94,389.9) rotate(-90)">ADGRG1</text>
<line x1="486.72" y1="382.9" x2="486.72" y2="386" stroke="#333" stroke-width="0.9"/>
<text x="0" y="0" font-size="9.3" font-style="italic" text-anchor="end" transform="translate(489.32,389.9) rotate(-90)">EPHB6</text>
<line x1="502.10" y1="382.9" x2="502.10" y2="386" stroke="#333" stroke-width="0.9"/>
<text x="0" y="0" font-size="9.3" font-style="italic" text-anchor="end" transform="translate(504.70,389.9) rotate(-90)">CD200</text>
<line x1="517.48" y1="382.9" x2="517.48" y2="386" stroke="#333" stroke-width="0.9"/>
<text x="0" y="0" font-size="9.3" font-style="italic" text-anchor="end" transform="translate(520.08,389.9) rotate(-90)">IL9R</text>
<line x1="532.86" y1="382.9" x2="532.86" y2="386" stroke="#333" stroke-width="0.9"/>
<text x="0" y="0" font-size="9.3" font-style="italic" text-anchor="end" transform="translate(535.46,389.9) rotate(-90)">PROM1</text>
<line x1="548.24" y1="382.9" x2="548.24" y2="386" stroke="#333" stroke-width="0.9"/>
<text x="0" y="0" font-size="9.3" font-style="italic" text-anchor="end" transform="translate(550.84,389.9) rotate(-90)">KIT</text>
<line x1="563.62" y1="382.9" x2="563.62" y2="386" stroke="#333" stroke-width="0.9"/>
<text x="0" y="0" font-size="9.3" font-style="italic" text-anchor="end" transform="translate(566.22,389.9) rotate(-90)">ERBB4</text>
<line x1="579.00" y1="382.9" x2="579.00" y2="386" stroke="#333" stroke-width="0.9"/>
<text x="0" y="0" font-size="9.3" font-style="italic" text-anchor="end" transform="translate(581.60,389.9) rotate(-90)">UMODL1</text>
<line x1="594.38" y1="382.9" x2="594.38" y2="386" stroke="#333" stroke-width="0.9"/>
<text x="0" y="0" font-size="9.3" font-style="italic" text-anchor="end" transform="translate(596.98,389.9) rotate(-90)">IL17RE</text>
<line x1="609.76" y1="382.9" x2="609.76" y2="386" stroke="#333" stroke-width="0.9"/>
<text x="0" y="0" font-size="9.3" font-style="italic" text-anchor="end" transform="translate(612.36,389.9) rotate(-90)">CNR2</text>
<line x1="625.14" y1="382.9" x2="625.14" y2="386" stroke="#333" stroke-width="0.9"/>
<text x="0" y="0" font-size="9.3" font-style="italic" text-anchor="end" transform="translate(627.74,389.9) rotate(-90)">NECTIN1</text>
<line x1="640.52" y1="382.9" x2="640.52" y2="386" stroke="#333" stroke-width="0.9"/>
<text x="0" y="0" font-size="9.3" font-style="italic" text-anchor="end" transform="translate(643.12,389.9) rotate(-90)">ADGRA3</text>
<line x1="655.90" y1="382.9" x2="655.90" y2="386" stroke="#333" stroke-width="0.9"/>
<text x="0" y="0" font-size="9.3" font-style="italic" text-anchor="end" transform="translate(658.50,389.9) rotate(-90)">NTRK1</text>
<text x="26.60" y="260.70" font-size="9.3">Cells obtained from</text>
<text x="26.60" y="271.80" font-size="9.3">scRNA-seq of</text>
<text x="26.60" y="282.90" font-size="9.3">children with T-ALL</text>
<text x="26.60" y="294.00" font-size="9.3">in present study</text>
<path d="M121.6 239.7 H112.9 V314.5 H121.6" fill="none" stroke="#111" stroke-width="1.3"/>
<text x="39.50" y="341.60" font-size="9.3">Cells obtained from</text>
<text x="39.50" y="352.80" font-size="9.3">published cell atlas of the</text>
<text x="39.50" y="364.00" font-size="9.3">normal immune system</text>
<path d="M158 321.9 H150 V379.4 H158" fill="none" stroke="#111" stroke-width="1.3"/>
<text x="390.70" y="461.90" font-size="9.3" text-anchor="middle">Fraction of cells in group (%)</text>
<circle cx="343" cy="476" r="1.9" fill="#777"/>
<line x1="343" y1="483.4" x2="343" y2="486.2" stroke="#333" stroke-width="0.9"/>
<text x="343.00" y="496.40" font-size="9.3" text-anchor="middle">10</text>
<circle cx="364.9" cy="476" r="3.05" fill="#777"/>
<line x1="364.9" y1="483.4" x2="364.9" y2="486.2" stroke="#333" stroke-width="0.9"/>
<text x="364.90" y="496.40" font-size="9.3" text-anchor="middle">20</text>
<circle cx="386.3" cy="476" r="4.15" fill="#777"/>
<line x1="386.3" y1="483.4" x2="386.3" y2="486.2" stroke="#333" stroke-width="0.9"/>
<text x="386.30" y="496.40" font-size="9.3" text-anchor="middle">30</text>
<circle cx="408.1" cy="476" r="5.15" fill="#777"/>
<line x1="408.1" y1="483.4" x2="408.1" y2="486.2" stroke="#333" stroke-width="0.9"/>
<text x="408.10" y="496.40" font-size="9.3" text-anchor="middle">40</text>
<circle cx="429.7" cy="476" r="6.0" fill="#777"/>
<line x1="429.7" y1="483.4" x2="429.7" y2="486.2" stroke="#333" stroke-width="0.9"/>
<text x="429.70" y="496.40" font-size="9.3" text-anchor="middle">≥50</text>
<text x="550.00" y="460.80" font-size="9.3" text-anchor="middle">Mean expression in group</text>
<rect x="516.2" y="469.9" width="63.9" height="7.6" fill="url(#cb)" stroke="#222" stroke-width="0.7"/>
<line x1="516.3" y1="477.6" x2="516.3" y2="480.2" stroke="#333" stroke-width="0.9"/>
<text x="516.30" y="489.90" font-size="9.3" text-anchor="middle">0</text>
<line x1="541.5" y1="477.6" x2="541.5" y2="480.2" stroke="#333" stroke-width="0.9"/>
<text x="541.50" y="489.90" font-size="9.3" text-anchor="middle">1</text>
<line x1="566.4" y1="477.6" x2="566.4" y2="480.2" stroke="#333" stroke-width="0.9"/>
<text x="566.40" y="489.90" font-size="9.3" text-anchor="middle">2</text>
</svg></body></html>
